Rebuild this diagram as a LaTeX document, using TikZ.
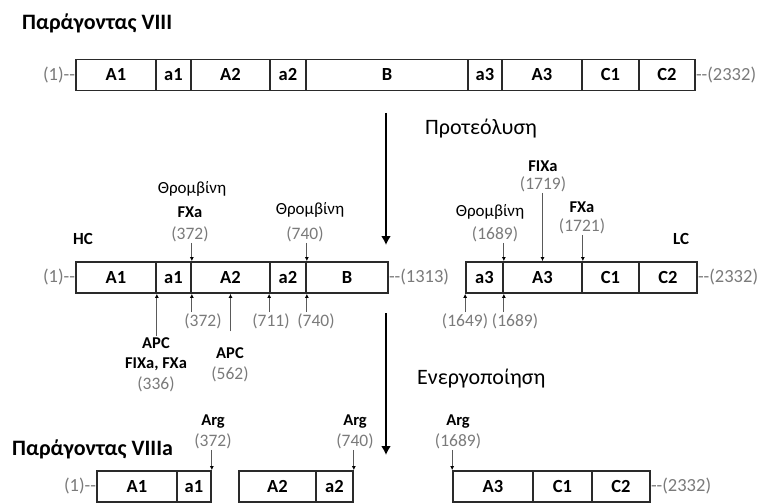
\documentclass[tikz,border=0pt]{standalone}
\usepackage{fontspec}
\setmainfont{Carlito}
\usetikzlibrary{arrows.meta}
\definecolor{numgray}{HTML}{7A7A7A}
\definecolor{linegray}{HTML}{5A5A5A}
\definecolor{boxline}{HTML}{2A2A2A}
% one domain segment: name, left x, right x, centre y, label
\newcommand\segbox[5]{\node[segm, minimum width={(#3-#2)*1pt}] (#1) at ({(#2+#3)/2},#4) {#5};}
\begin{document}
\begin{tikzpicture}[x=1pt,y=-1pt,
  segm/.style={draw=boxline, line width=1.7pt, minimum height=31pt, inner sep=0pt,
    text height=11.6pt, text depth=0pt,
    font=\fontsize{18.5}{21}\selectfont\bfseries},
  endl/.style={text=numgray, font=\fontsize{18.5}{21}\selectfont, inner sep=0pt},
  num/.style={text=numgray, font=\fontsize{17.5}{20}\selectfont, inner sep=1pt},
  tag/.style={font=\fontsize{16.5}{19}\selectfont\bfseries, inner sep=1pt},
  enz/.style={font=\fontsize{17}{20}\selectfont, inner sep=1pt},
  chain/.style={font=\fontsize{17}{20}\selectfont\bfseries, inner sep=0pt, anchor=base west},
  title/.style={font=\fontsize{22}{26}\selectfont\bfseries, inner sep=0pt, anchor=base west},
  stagelbl/.style={font=\fontsize{22}{26}\selectfont, inner sep=0pt, anchor=base west},
  cut/.style={draw=linegray, line width=0.8pt, -{Latex[length=4pt,width=4pt,color=black]}},
  big/.style={line width=2.6pt, -{Latex[length=9pt,width=10pt]}}]
\useasboundingbox (0,0) rectangle (761,503);

% ---- factor VIII ----
\node[title] (t1) at (22,30) {Παράγοντας VIII};
\segbox{pA1}{76}{156}{75}{A1}
\segbox{pa1}{156}{191}{75}{a1}
\segbox{pA2}{191}{270}{75}{A2}
\segbox{pa2}{270}{306}{75}{a2}
\segbox{pB}{306}{468}{75}{B}
\segbox{pa3}{468}{502}{75}{a3}
\segbox{pA3}{502}{582}{75}{A3}
\segbox{pC1}{582}{639}{75}{C1}
\segbox{pC2}{639}{695}{75}{C2}
\node[endl, anchor=east] (pL) at (pA1.west) {(1)-{}-};
\node[endl, anchor=west] (pR) at (pC2.east) {-{}-(2332)};

% ---- proteolysis ----
\coordinate (s1a) at (386,113);
\coordinate (s1b) at (386,245);
\draw[big] (s1a) -- (s1b);
\node[stagelbl] (prot) at (425,134) {Προτεόλυση};

% ---- heavy chain ----
\node[chain] (hc) at (73,244) {HC};
\segbox{hA1}{76}{156}{277.5}{A1}
\segbox{ha1}{156}{191}{277.5}{a1}
\segbox{hA2}{191}{270}{277.5}{A2}
\segbox{ha2}{270}{306}{277.5}{a2}
\segbox{hB}{306}{388}{277.5}{B}
\node[endl, anchor=east] (hL) at (hA1.west) {(1)-{}-};
\node[endl, anchor=west] (hR) at (hB.east) {-{}-(1313)};

% cleavage sites above HC
\node[enz] (h1e) at (192,189) {Θρομβίνη};
\node[tag] (h1t) at (190,212) {FXa};
\node[num] (h1n) at (190,234) {(372)};
\node[enz] (h2e) at (310,210) {Θρομβίνη};
\node[num] (h2n) at (305,234) {(740)};
\draw[cut] (ha1.north east |- h1n.south) -- (ha1.north east);
\draw[cut] (ha2.north east |- h2n.south) -- (ha2.north east);

% cleavage sites below HC
\node[num] (b372) at (203,321) {(372)};
\node[num] (b711) at (271,321) {(711)};
\node[num] (b740) at (316,321) {(740)};
\node[tag] (apc1) at (156,343) {APC};
\node[tag] (fx1) at (156,364) {FIXa, FXa};
\node[num] (n336) at (156,384) {(336)};
\node[tag] (apc2) at (230,353) {APC};
\node[num] (n562) at (230,374) {(562)};
\draw[cut] (hA1.south east |- apc1.north) -- (hA1.south east);
\draw[cut] (ha1.south east |- b372.north) -- (ha1.south east);
\draw[cut, shorten <=15pt] (hA2.south |- apc2.north) -- (hA2.south);
\draw[cut] (ha2.south west |- b711.north) -- (ha2.south west);
\draw[cut] (ha2.south east |- b740.north) -- (ha2.south east);

% ---- light chain ----
\node[chain] (lc) at (673,244) {LC};
\segbox{la3}{466}{503}{277.5}{a3}
\segbox{lA3}{503}{582}{277.5}{A3}
\segbox{lC1}{582}{639}{277.5}{C1}
\segbox{lC2}{639}{697}{277.5}{C2}
\node[endl, anchor=west] (lR) at (lC2.east) {-{}-(2332)};

% cleavage sites above LC
\node[tag] (l1t) at (543,166) {FIXa};
\node[num] (l1n) at (543,184) {(1719)};
\node[enz] (l2e) at (490,212) {Θρομβίνη};
\node[num] (l2n) at (495,234) {(1689)};
\node[tag] (l3t) at (582,207) {FXa};
\node[num] (l3n) at (582,226) {(1721)};
\draw[cut] (lA3.north |- l1n.south) -- (lA3.north);
\draw[cut] (la3.north east |- l2n.south) -- (la3.north east);
\draw[cut] (lA3.north east |- l3n.south) -- (lA3.north east);

% cleavage sites below LC
\node[num] (b1649) at (465,321) {(1649)};
\node[num] (b1689) at (515,321) {(1689)};
\draw[cut] (la3.south west |- b1649.north) -- (la3.south west);
\draw[cut] (la3.south east |- b1689.north) -- (la3.south east);

% ---- activation ----
\coordinate (s2a) at (386,313);
\coordinate (s2b) at (386,455);
\draw[big] (s2a) -- (s2b);
\node[stagelbl] (act) at (417,384) {Ενεργοποίηση};

% ---- factor VIIIa ----
\node[title] (t2) at (12,455) {Παράγοντας VIIIa};
\segbox{vA1}{97}{177}{486.5}{A1}
\segbox{va1}{177}{211}{486.5}{a1}
\segbox{vA2}{239}{316}{486.5}{A2}
\segbox{va2}{316}{353}{486.5}{a2}
\segbox{vA3}{453}{533}{486.5}{A3}
\segbox{vC1}{533}{592}{486.5}{C1}
\segbox{vC2}{592}{650}{486.5}{C2}
\node[endl, anchor=east] (vL) at (vA1.west) {(1)-{}-};
\node[endl, anchor=west] (vR) at (vC2.east) {-{}-(2332)};

\node[tag] (v1t) at (213,422) {Arg};
\node[num] (v1n) at (213,441) {(372)};
\node[tag] (v2t) at (355,422) {Arg};
\node[num] (v2n) at (355,441) {(740)};
\node[tag] (v3t) at (458,422) {Arg};
\node[num] (v3n) at (458,441) {(1689)};
\draw[cut] (va1.north east |- v1n.south) -- (va1.north east);
\draw[cut] (va2.north east |- v2n.south) -- (va2.north east);
\draw[cut] (vA3.north west |- v3n.south) -- (vA3.north west);
\end{tikzpicture}
\end{document}
